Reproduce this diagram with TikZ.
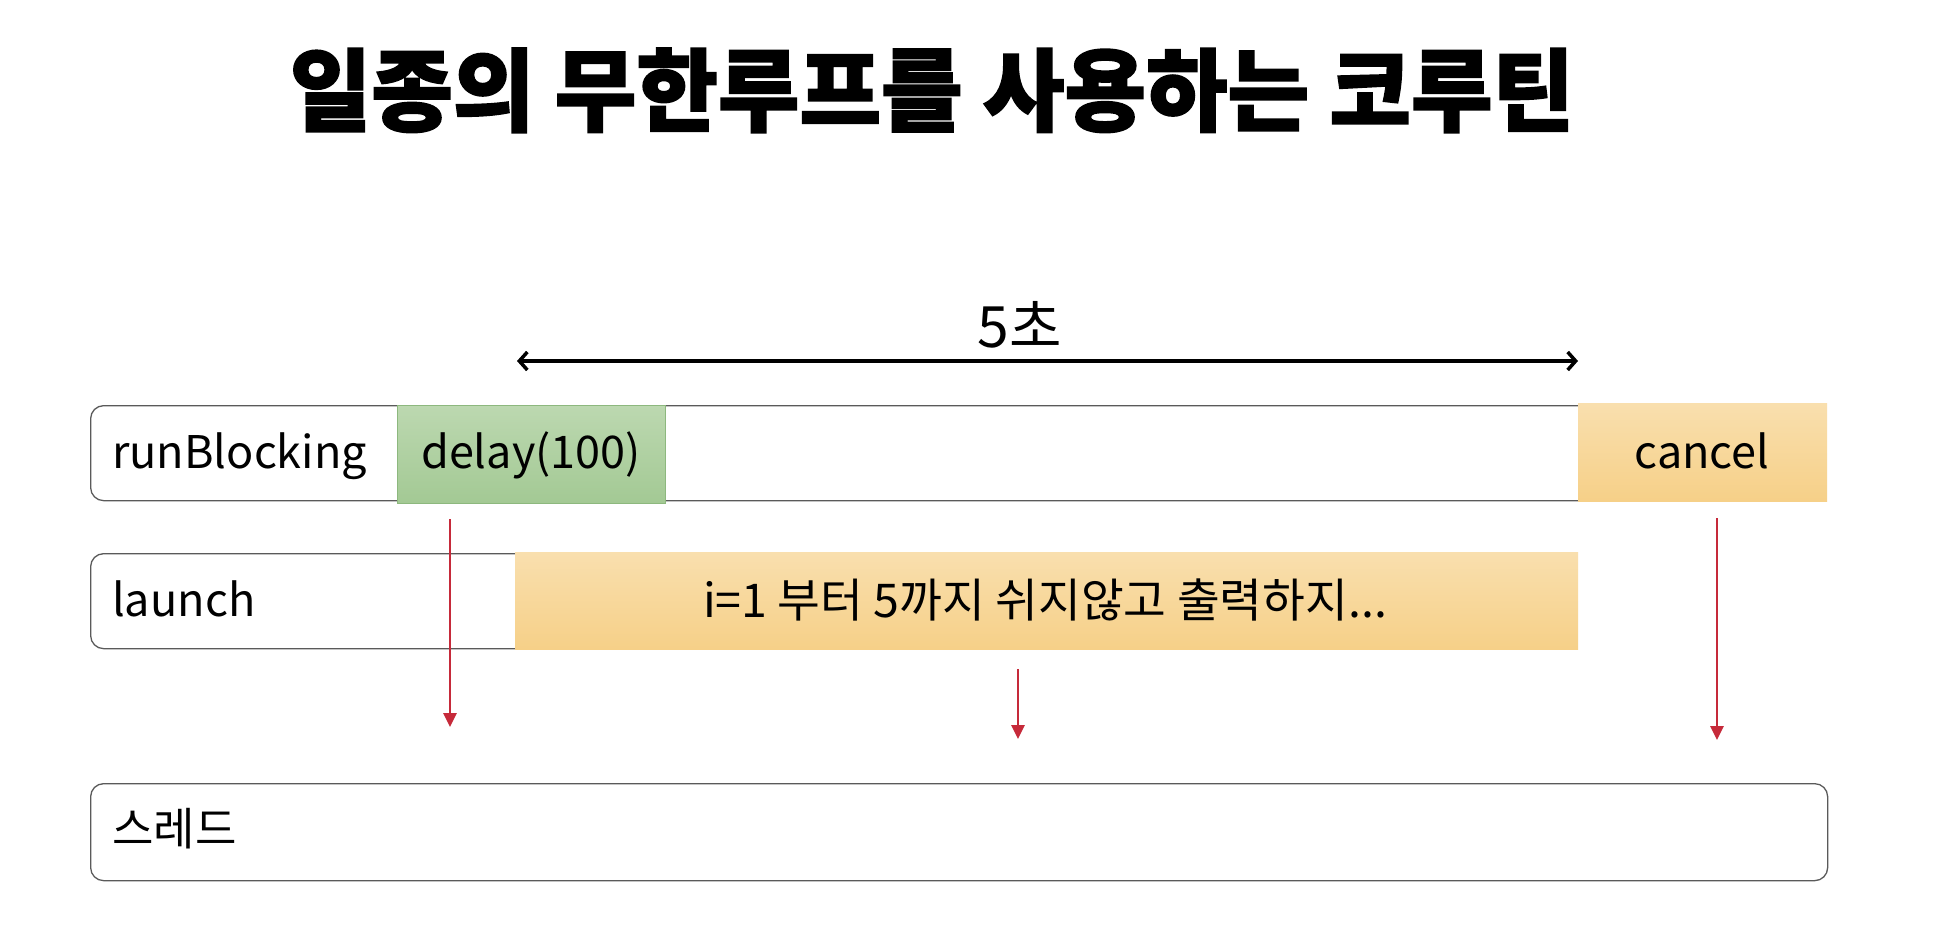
\documentclass[tikz,border=0pt]{standalone}
\usepackage{fontspec}
\setmainfont{Noto Sans CJK KR}
\newfontfamily\titlefont{Noto Sans CJK KR}[BoldFeatures={FakeBold=1.8}]
\usetikzlibrary{arrows.meta}
\definecolor{linegray}{HTML}{5A5A5A}
\definecolor{greentop}{HTML}{BCD8B0}
\definecolor{greenbot}{HTML}{A3C994}
\definecolor{greenedge}{HTML}{8DB87E}
\definecolor{orangetop}{HTML}{F9DFAE}
\definecolor{orangebot}{HTML}{F6D088}
\definecolor{arrowred}{HTML}{C62A3A}
\tikzset{
  whitebox/.style={draw=linegray, line width=1.3pt, fill=white, rounded corners=13pt, anchor=north west, inner sep=0pt},
  greenbox/.style={draw=greenedge, line width=1pt, top color=greentop, bottom color=greenbot, anchor=north west, inner sep=0pt},
  orangebox/.style={top color=orangetop, bottom color=orangebot, anchor=north west, inner sep=0pt},
  lbl/.style={font=\fontsize{45pt}{52pt}\selectfont, inner sep=0pt, anchor=base west},
  redarrow/.style={draw=arrowred, line width=2.7pt, -{Triangle[length=14pt,width=13pt]}},
  spanarrow/.style={line width=3.5pt, {Straight Barb[length=8pt,width=18pt]}-{Straight Barb[length=8pt,width=18pt]}}
}
\begin{document}
\begin{tikzpicture}[x=1pt,y=-1pt]
\useasboundingbox[fill=white] (0,0) rectangle (1938,950);
% title
\node[anchor=base, inner sep=0pt] (title) at (932,124) {\titlefont\bfseries\fontsize{90pt}{100pt}\selectfont\scalebox{0.985}[1]{일종의 무한루프를 사용하는 코루틴}};
% span arrow
\node[anchor=base, inner sep=0pt, font=\fontsize{57pt}{64pt}\selectfont] (five) at (1020,347) {5초};
\coordinate (sl) at (517,361);
\coordinate (sr) at (1578,361);
\draw[spanarrow] (sl) -- (sr);
% boxes
\node[whitebox, minimum width=1510pt, minimum height=95pt] (rbbox) at (90,405) {};
\node[greenbox, minimum width=268pt, minimum height=98pt] (delay) at (397,405) {};
\node[orangebox, minimum width=249pt, minimum height=98pt] (cancel) at (1578,403) {};
\node[whitebox, minimum width=450pt, minimum height=95pt] (lbox) at (90,553) {};
\node[orangebox, minimum width=1063pt, minimum height=97pt] (loop) at (515,552) {};
\node[whitebox, minimum width=1737pt, minimum height=97pt] (thread) at (90,783) {};
% labels
\node[lbl] (rbt) at (112,468) {runBlocking};
\node[lbl, anchor=base] (delayt) at (531,468) {delay(100)};
\node[lbl, anchor=base] (cancelt) at (1702,468) {cancel};
\node[lbl] (lt) at (112,616) {launch};
\node[lbl, anchor=base, font=\fontsize{46.5pt}{52pt}\selectfont] (loopt) at (1045,617) {i=1 부터 5까지 쉬지않고 출력하지...};
\node[lbl] (tt) at (112,845) {스레드};
% red arrows
\coordinate (a1s) at (450,519);
\coordinate (a1e) at (450,727);
\coordinate (a2s) at (1018,669);
\coordinate (a2e) at (1018,739);
\coordinate (a3s) at (1717,518);
\coordinate (a3e) at (1717,740);
\draw[redarrow] (a1s) -- (a1e);
\draw[redarrow] (a2s) -- (a2e);
\draw[redarrow] (a3s) -- (a3e);
\end{tikzpicture}
\end{document}
